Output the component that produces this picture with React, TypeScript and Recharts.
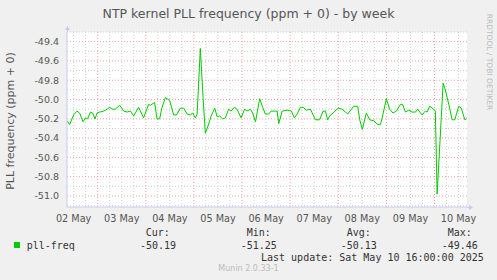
import React from "react";
import { LineChart, Line, XAxis, YAxis, CartesianGrid, ReferenceLine } from "recharts";

// hours since 02 May 00:00
const hours = [
  8.8, 10.0, 12.0, 13.7, 15.0, 16.7, 17.9, 19.0, 20.4, 21.5, 22.7, 23.7, 25.0, 27.0, 28.7, 30.0,
  31.2, 32.8, 35.0, 37.0, 38.7, 40.3, 42.0, 44.4, 46.9, 49.4, 50.3, 52.4, 53.6, 54.9, 56.1, 57.8,
  59.9, 61.9, 63.3, 65.2, 66.9, 68.6, 70.2, 71.4, 72.7, 73.6, 75.2, 76.6, 77.7, 79.1, 80.6, 82.4,
  83.6, 84.8, 86.3, 87.7, 89.3, 90.5, 92.2, 93.5, 95.5, 97.3, 98.5, 100.2, 101.3, 102.7, 104.8,
  106.3, 107.6, 109.3, 110.5, 112.6, 113.5, 114.3, 116.0, 118.5, 120.6, 122.1, 123.5, 125.1,
  126.5, 128.0, 130.1, 132.6, 134.7, 136.4, 137.6, 138.7, 139.7, 141.4, 143.9, 145.9, 148.7,
  151.7, 153.7, 154.7, 156.0, 158.0, 159.7, 161.7, 163.7, 165.0, 165.8, 168.0, 169.6, 171.3,
  173.0, 175.0, 176.1, 177.5, 179.1, 180.8, 182.5, 183.6, 185.8, 187.4, 188.3, 189.6, 191.6,
  192.4, 193.3, 196.3, 197.4, 199.1, 200.8, 202.1, 204.1, 205.4, 207.1, 207.9,
];
const pllFreq = [
  -50.22, -50.26, -50.16, -50.12, -50.14, -50.23, -50.19, -50.2, -50.13, -50.14, -50.2, -50.14,
  -50.13, -50.12, -50.1, -50.08, -50.1, -50.1, -50.06, -50.12, -50.13, -50.12, -50.17, -50.08,
  -50.19, -50.05, -50.06, -50.03, -50.2, -50.2, -50.08, -49.98, -50.01, -50.16, -50.16, -50.09,
  -50.09, -50.15, -50.16, -50.14, -50.19, -50.15, -49.47, -49.99, -50.35, -50.27, -50.17, -50.09,
  -50.18, -50.17, -50.2, -50.19, -50.1, -50.12, -50.08, -50.1, -50.19, -50.1, -50.12, -50.1,
  -50.14, -50.23, -49.99, -50.08, -50.15, -50.15, -50.12, -50.12, -50.12, -50.25, -50.12, -50.11,
  -50.12, -50.19, -50.15, -50.08, -50.08, -50.11, -50.1, -50.21, -50.21, -50.12, -50.12, -50.21,
  -50.17, -50.14, -50.09, -50.1, -50.15, -50.07, -50.07, -50.21, -50.31, -50.14, -50.21, -50.22,
  -50.26, -50.26, -50.2, -49.99, -50.1, -50.14, -50.12, -50.05, -50.05, -50.13, -50.11, -50.13,
  -50.13, -50.1, -50.16, -50.12, -50.13, -50.07, -50.1, -50.12, -50.98, -49.83, -49.9, -50.05,
  -50.21, -50.21, -50.07, -50.09, -50.21, -50.2,
];

const dayTicks = [12, 36, 60, 84, 108, 132, 156, 180, 204];
const dayLabels = ["02 May", "03 May", "04 May", "05 May", "06 May", "07 May", "08 May", "09 May", "10 May"];
const dayBoundaries = [24, 48, 72, 96, 120, 144, 168, 192];
const minorHours = [
  12, 18, 30, 36, 42, 54, 60, 66, 78, 84, 90, 102, 108, 114, 126, 132, 138, 150, 156, 162, 174,
  180, 186, 198, 204,
];
const yTicks = [-49.4, -49.6, -49.8, -50.0, -50.2, -50.4, -50.6, -50.8, -51.0];
const yMinor = [-49.3, -49.5, -49.7, -49.9, -50.1, -50.3, -50.5, -50.7, -50.9, -51.1];

const legendHeaders = ["Cur:", "Min:", "Avg:", "Max:"];
const legendValues = ["-50.19", "-51.25", "-50.13", "-49.46"];
const seriesName = "pll-freq";

const data = hours.map((h, i) => ({ h, v: pllFreq[i] }));

const SANS = "'DejaVu Sans', sans-serif";
const MONO = "'DejaVu Sans Mono', monospace";
const AXIS = "#c8c8f4";

export default function App() {
  const headerX = [145.7, 246.7, 346.7, 447.7];
  const valueX = [140, 240.7, 340.7, 441.7];
  return (
    <div
      style={{
        position: "absolute",
        left: 0,
        top: 0,
        width: 497,
        height: 280,
        background: "#f0f0f0",
        overflow: "hidden",
      }}
    >
      <LineChart
        width={497}
        height={280}
        data={data}
        margin={{ top: 32, right: 30, bottom: 53, left: 7 }}
      >
        <CartesianGrid fill="#ffffff" horizontal={false} vertical={false} />
        {minorHours.map((h) => (
          <ReferenceLine key={"mh" + h} x={h} stroke="#cfcfcf" strokeDasharray="1 2" />
        ))}
        {yMinor.map((y) => (
          <ReferenceLine key={"my" + y} y={y} stroke="#cfcfcf" strokeDasharray="1 2" />
        ))}
        {dayBoundaries.map((h) => (
          <ReferenceLine key={"dh" + h} x={h} stroke="#f2a0a0" strokeDasharray="1 2" />
        ))}
        {yTicks.map((y) => (
          <ReferenceLine key={"dy" + y} y={y} stroke="#f2a0a0" strokeDasharray="1 2" />
        ))}
        <XAxis
          dataKey="h"
          type="number"
          domain={[8.7, 208.2]}
          ticks={dayTicks}
          tickFormatter={(v: number) => dayLabels[dayTicks.indexOf(v)] ?? ""}
          tickLine={false}
          axisLine={{ stroke: AXIS }}
          tick={{ fill: "#555", fontSize: 9.7, fontFamily: SANS }}
          height={20}
          allowDataOverflow
          interval={0}
        />
        <YAxis
          type="number"
          domain={[-51.114, -49.3]}
          ticks={yTicks}
          tickFormatter={(v: number) => v.toFixed(1)}
          tickLine={false}
          axisLine={{ stroke: AXIS }}
          tick={{ fill: "#555", fontSize: 9.5, fontFamily: SANS }}
          width={60}
          allowDataOverflow
          interval={0}
        />
        <Line
          dataKey="v"
          type="linear"
          stroke="#00cc00"
          strokeWidth={1}
          dot={false}
          isAnimationActive={false}
        />
      </LineChart>

      <svg
        width={497}
        height={280}
        style={{ position: "absolute", left: 0, top: 0, pointerEvents: "none" }}
      >
        <line x1={67.5} y1={32} x2={67.5} y2={28} stroke={AXIS} />
        <polygon points="65,30 70,30 67.5,26" fill={AXIS} />
        <line x1={467} y1={207.5} x2={471} y2={207.5} stroke={AXIS} />
        <polygon points="469,205 469,210 473,207.5" fill={AXIS} />
      </svg>

      <div
        style={{
          position: "absolute",
          left: 0,
          width: 497,
          top: 6,
          textAlign: "center",
          fontFamily: SANS,
          fontSize: 12.5,
          color: "#555",
          lineHeight: "16px",
        }}
      >
        NTP kernel PLL frequency (ppm + 0) - by week
      </div>
      <div
        style={{
          position: "absolute",
          left: 10,
          top: 120.7,
          transform: "translate(-50%, -50%) rotate(-90deg)",
          whiteSpace: "nowrap",
          fontFamily: SANS,
          fontSize: 11,
          color: "#555",
        }}
      >
        PLL frequency (ppm + 0)
      </div>
      <div
        style={{
          position: "absolute",
          left: 489,
          top: 62,
          transform: "translate(-50%, -50%) rotate(90deg)",
          whiteSpace: "nowrap",
          fontFamily: SANS,
          fontSize: 7.5,
          color: "#bbb",
        }}
      >
        RRDTOOL / TOBI OETIKER
      </div>

      {legendHeaders.map((t, i) => (
        <div
          key={t}
          style={{
            position: "absolute",
            left: headerX[i],
            top: 226,
            fontFamily: MONO,
            fontSize: 10,
            lineHeight: "14px",
            color: "#333",
            whiteSpace: "pre",
          }}
        >
          {t}
        </div>
      ))}
      <div
        style={{
          position: "absolute",
          left: 14,
          top: 241.5,
          width: 6,
          height: 6,
          background: "#00cc00",
        }}
      />
      <div
        style={{
          position: "absolute",
          left: 26.7,
          top: 238.5,
          fontFamily: MONO,
          fontSize: 10,
          lineHeight: "14px",
          color: "#333",
          whiteSpace: "pre",
        }}
      >
        {seriesName}
      </div>
      {legendValues.map((t, i) => (
        <div
          key={"v" + i}
          style={{
            position: "absolute",
            left: valueX[i],
            top: 238.5,
            fontFamily: MONO,
            fontSize: 10,
            lineHeight: "14px",
            color: "#333",
            whiteSpace: "pre",
          }}
        >
          {t}
        </div>
      ))}
      <div
        style={{
          position: "absolute",
          left: 261,
          top: 250.5,
          fontFamily: MONO,
          fontSize: 10,
          lineHeight: "14px",
          color: "#333",
          whiteSpace: "pre",
        }}
      >
        Last update: Sat May 10 16:00:00 2025
      </div>
      <div
        style={{
          position: "absolute",
          left: 0,
          width: 497,
          top: 263,
          textAlign: "center",
          fontFamily: SANS,
          fontSize: 8,
          lineHeight: "12px",
          color: "#bbb",
        }}
      >
        Munin 2.0.33-1
      </div>
    </div>
  );
}
